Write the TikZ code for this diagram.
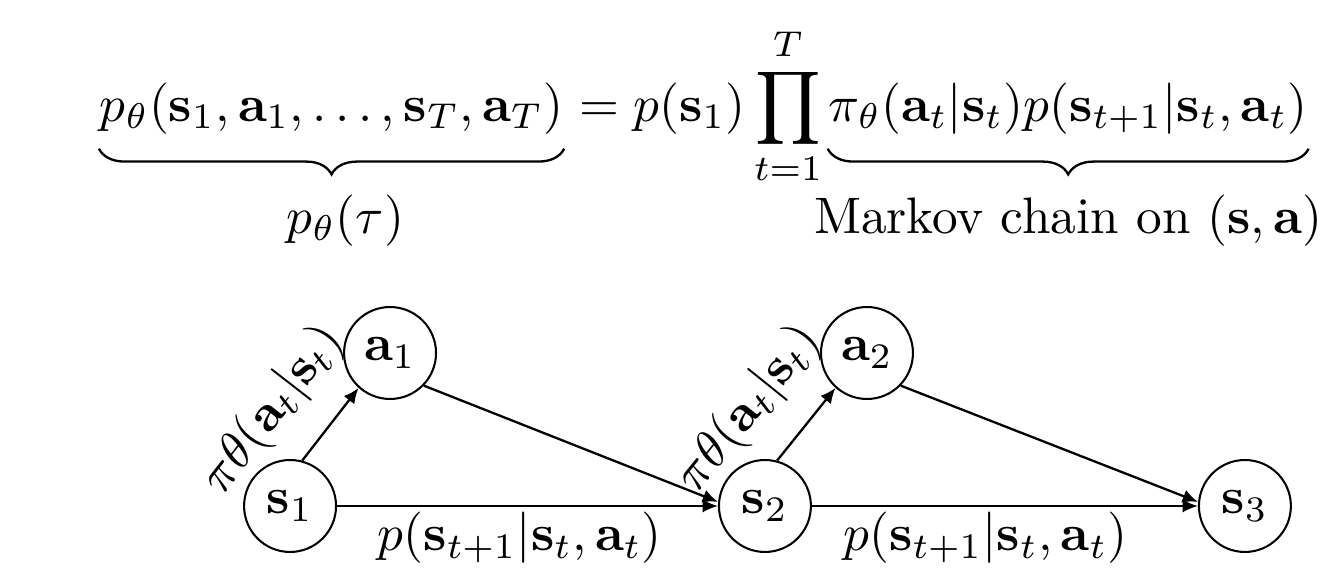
\documentclass[tikz,border=0pt]{standalone}
\usepackage{amsmath}
\usepackage{tikz}
\usetikzlibrary{positioning, decorations.pathreplacing, arrows.meta}

\tikzset{
    statenode/.style={circle, draw, minimum size=6.3mm, inner sep=0pt},
    link/.style={line width=0.45pt, -{Latex[length=3pt,width=2.6pt]}},
    curly/.style={decorate, decoration={brace, mirror, amplitude=5pt}, line width=0.45pt},
    eqpart/.style={inner sep=0pt, anchor=base west},
}

\begin{document}
\begin{tikzpicture}[scale=1.0]
    \useasboundingbox (0,0) rectangle (9.056,3.946);

    % trajectory distribution
    \node[eqpart] (lhs) at (0.678,3.117)
        {$p_\theta(\mathbf{s}_1,\mathbf{a}_1,\ldots,\mathbf{s}_T,\mathbf{a}_T)$};
    \node[eqpart] (mid) at (lhs.base east)
        {$\displaystyle {}=p(\mathbf{s}_1)\prod_{t=1}^{T}$};
    \node[eqpart] (rhs) at ([xshift=1pt]mid.base east)
        {$\pi_\theta(\mathbf{a}_t|\mathbf{s}_t)p(\mathbf{s}_{t+1}|\mathbf{s}_t,\mathbf{a}_t)$};

    \draw[curly] ([yshift=-2.7pt]lhs.south west) -- ([yshift=-2.7pt]lhs.south east)
        node[midway, below=5.4pt, xshift=2.7pt] (tau) {$p_\theta(\tau)$};
    \draw[curly] ([yshift=-2.7pt]rhs.south west) -- ([yshift=-2.7pt]rhs.south east)
        node[midway, below=5.4pt] (chain) {Markov chain on $(\mathbf{s},\mathbf{a})$};

    % states and actions
    \node[statenode] (s1) at (1.987,0.480) {$\mathbf{s}_1$};
    \node[statenode] (a1) at (2.672,1.528) {$\mathbf{a}_1$};
    \node[statenode] (s2) at (5.240,0.480) {$\mathbf{s}_2$};
    \node[statenode] (a2) at (5.939,1.528) {$\mathbf{a}_2$};
    \node[statenode] (s3) at (8.528,0.480) {$\mathbf{s}_3$};

    \draw[link] (s1.75) -- (a1.228)
        node[pos=0.24, sloped, above=2pt] (pol1) {$\pi\theta(\mathbf{a}_t|\mathbf{s}_t)$};
    \draw[link] (a1.-44) -- (s2.175);
    \draw[link] (s1) -- (s2)
        node[pos=0.48, below, inner sep=1pt] (dyn1) {$p(\mathbf{s}_{t+1}|\mathbf{s}_t,\mathbf{a}_t)$};

    \draw[link] (s2.75) -- (a2.228)
        node[pos=0.24, sloped, above=2pt] (pol2) {$\pi\theta(\mathbf{a}_t|\mathbf{s}_t)$};
    \draw[link] (a2.-44) -- (s3.175);
    \draw[link] (s2) -- (s3)
        node[pos=0.45, below, inner sep=1pt] (dyn2) {$p(\mathbf{s}_{t+1}|\mathbf{s}_t,\mathbf{a}_t)$};
\end{tikzpicture}
\end{document}
